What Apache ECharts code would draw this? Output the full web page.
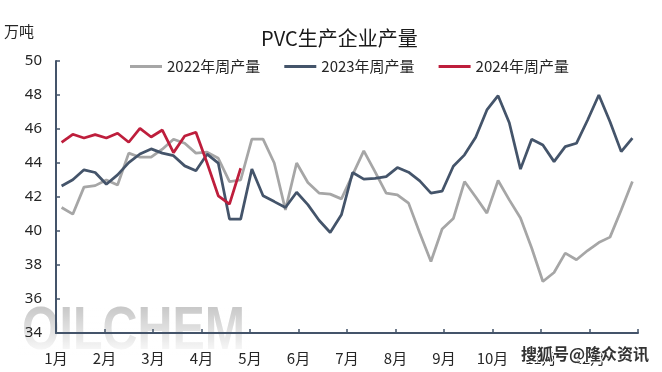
<!DOCTYPE html>
<html><head><meta charset="utf-8">
<script src="https://cdn.jsdelivr.net/npm/echarts@6/dist/echarts.min.js"></script>
<style>html,body{margin:0;padding:0;background:#fff}#c{width:662px;height:372px}</style>
</head><body><div id="c"></div>
<script>
const weeks = Array.from({length: 52}, (_, i) => '第' + (i + 1) + '周');
const monthLabels = ['1月','2月','3月','4月','5月','6月','7月','8月','9月','10月','11月','12月'];
const s2022 = [41.38,40.99,42.58,42.67,43.0,42.71,44.58,44.34,44.34,44.81,45.4,45.16,44.58,44.64,44.28,42.91,43.0,45.4,45.4,44.0,41.24,44.0,42.85,42.23,42.17,41.89,43.3,44.71,43.49,42.23,42.13,41.64,39.88,38.21,40.12,40.73,42.91,42.0,41.05,42.97,41.83,40.76,39.0,37.03,37.56,38.7,38.31,38.85,39.32,39.64,41.24,42.91];
const s2023 = [42.65,43.01,43.6,43.44,42.75,43.3,44.02,44.53,44.83,44.58,44.43,43.83,43.55,44.52,43.99,40.70,40.70,43.65,42.07,41.73,41.38,42.28,41.55,40.63,39.91,40.95,43.44,43.05,43.1,43.2,43.73,43.46,42.95,42.23,42.34,43.81,44.48,45.52,47.12,47.96,46.37,43.64,45.4,45.06,44.08,44.96,45.16,46.53,48.0,46.43,44.67,45.46];
const s2024 = [45.22,45.69,45.47,45.67,45.47,45.75,45.22,46.04,45.53,45.94,44.61,45.59,45.81,44.0,42.07,41.58,43.69];
const seriesNames = ['2022年周产量','2023年周产量','2024年周产量'];
const colors = ['#a6a6a6','#44546a','#be1e3c'];

const chart = echarts.init(document.getElementById('c'), null, {renderer: 'canvas'});
const axisColor = '#44546a';
const txt = '#262626';
chart.setOption({
  animation: false,
  color: colors,
  title: {
    text: 'PVC生产企业产量', left: 256, top: 23,
    textStyle: {fontSize: 20, fontWeight: 'normal', color: '#1a1a1a', fontFamily: 'Noto Sans CJK SC'}
  },
  legend: {
    left: 125, top: 54, itemWidth: 32, itemHeight: 3, itemGap: 24, icon: 'rect',
    textStyle: {fontSize: 15, color: txt, fontFamily: 'Noto Sans CJK SC'},
    data: seriesNames
  },
  grid: {left: 56, right: 24, top: 61, bottom: 39},
  graphic: [
    {type: 'text', x: 22, y: 301, z: -10, silent: true, scaleX: 0.78,
     style: {text: 'OILCHEM', fontSize: 62, fontWeight: 'bold', fontFamily: 'Liberation Sans',
       textVerticalAlign: 'top', fill: '#c6c6c6'}},
    {type: 'rect', z: -5, silent: true,
     shape: {x: 18, y: 305, width: 232, height: 50},
     style: {fill: new echarts.graphic.LinearGradient(0, 0, 0, 1, [
       {offset: 0, color: 'rgba(255,255,255,0)'},
       {offset: 1, color: 'rgba(255,255,255,0.95)'}])}},
    {type: 'text', left: 4, top: 24, z: 10,
     style: {text: '万吨', fontSize: 15, fill: txt, fontFamily: 'Noto Sans CJK SC'}},
    {type: 'text', right: 12, top: 345, z: 100,
     style: {text: '搜狐号@隆众资讯', fontSize: 16, fontWeight: 'bold', fill: '#333', stroke: '#fff', lineWidth: 2, fontFamily: 'Noto Sans CJK SC'}}
  ],
  xAxis: [
    {type: 'category', data: weeks, boundaryGap: true, show: false},
    {type: 'value', min: 0, max: 12, interval: 1, position: 'bottom',
     axisLine: {show: true, lineStyle: {color: axisColor, width: 2}},
     axisTick: {show: true, inside: true, length: 4, lineStyle: {color: axisColor, width: 1.5}},
     splitLine: {show: false},
     axisLabel: {margin: 18, fontSize: 15, color: txt, fontFamily: 'Noto Sans CJK SC',
       formatter: v => (v < 12 ? monthLabels[v] : '')}}
  ],
  yAxis: {
    type: 'value', min: 34, max: 50, interval: 2,
    axisLine: {show: true, lineStyle: {color: axisColor, width: 2}},
    axisTick: {show: true, inside: true, length: 4, lineStyle: {color: axisColor, width: 1.5}},
    splitLine: {show: false},
    axisLabel: {margin: 14, fontSize: 15, color: txt, fontFamily: 'Noto Sans'}
  },
  series: [s2022, s2023, s2024].map((d, i) => ({
    name: seriesNames[i], type: 'line', xAxisIndex: 0, data: d,
    showSymbol: false, symbol: 'none', lineStyle: {width: 2.75, color: colors[i]},
    itemStyle: {color: colors[i]}, z: 2 + i
  }))
});
</script></body></html>
